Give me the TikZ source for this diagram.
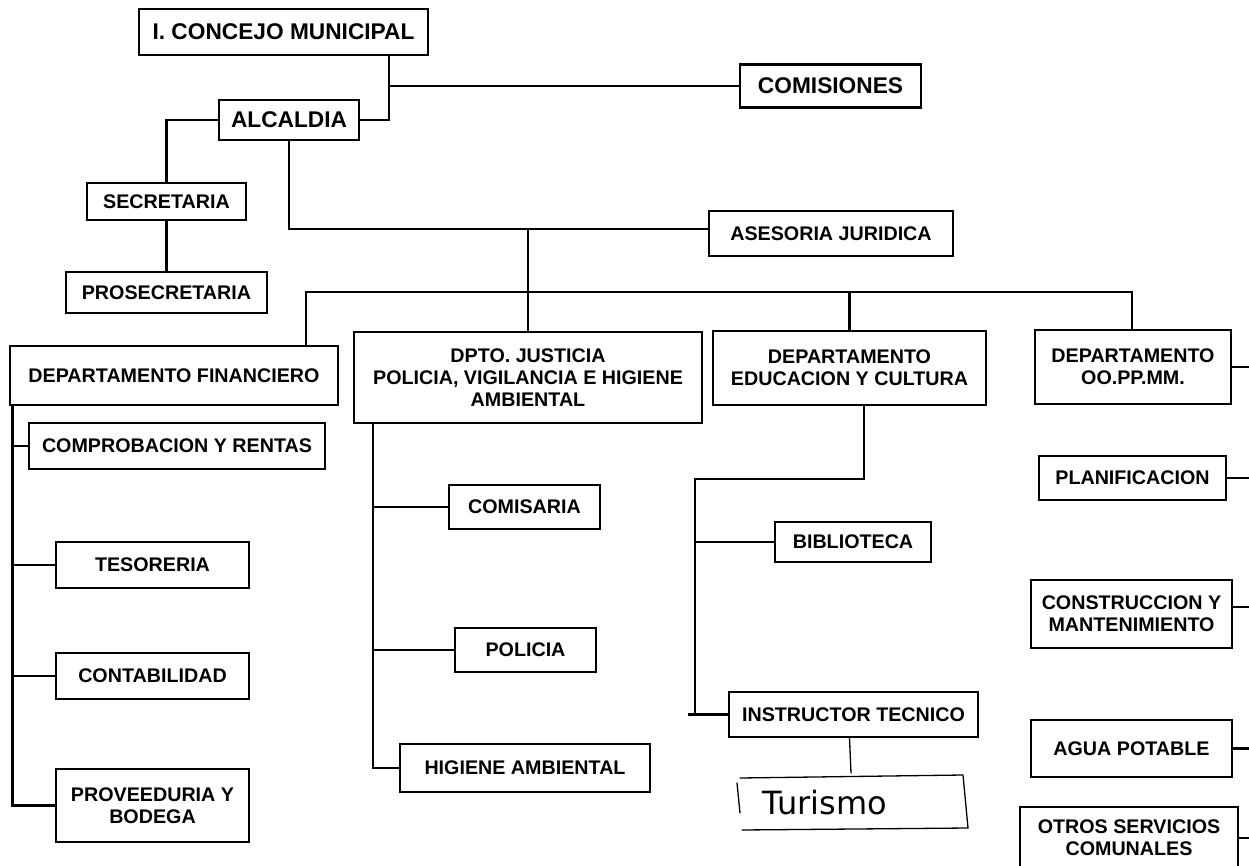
\documentclass[tikz,border=0pt]{standalone}
\usepackage{fontspec}
\setmainfont{Liberation Sans}
\newfontfamily\handfont{DejaVu Sans}
\begin{document}
\begin{tikzpicture}[x=1pt,y=-1pt,
  box/.style={draw, line width=2.2pt, rectangle, inner sep=0pt, align=center,
    font=\bfseries\fontsize{19.7}{21.7}\selectfont},
  bigbox/.style={box, font=\bfseries\fontsize{22.7}{25}\selectfont},
  conn/.style={line width=2.2pt},
  handline/.style={line width=1.3pt, line cap=round, line join=round},
  handtext/.style={inner sep=0pt, font=\handfont\fontsize{32}{34}\selectfont}]
\clip (0,0) rectangle (1249,866);
\fill[white] (0,0) rectangle (1249,866);

% ---- boxes ----
\node[bigbox, minimum width=289pt, minimum height=46pt] (concejo) at (283.5,32) {I. CONCEJO MUNICIPAL};
\node[bigbox, minimum width=140pt, minimum height=40pt] (alcaldia) at (289,120) {ALCALDIA};
\node[bigbox, minimum width=181pt, minimum height=43pt] (comisiones) at (830.5,86) {COMISIONES};
\node[box, minimum width=159pt, minimum height=37pt] (secretaria) at (166.5,201.5) {SECRETARIA};
\node[box, minimum width=201pt, minimum height=41pt] (prosecretaria) at (166.5,292.5) {PROSECRETARIA};
\node[box, minimum width=244pt, minimum height=45pt] (asesoria) at (831,233.5) {ASESORIA JURIDICA};
\node[box, minimum width=328pt, minimum height=59pt] (financiero) at (174,375.5) {DEPARTAMENTO FINANCIERO};
\node[box, minimum width=348pt, minimum height=91pt] (justicia) at (528,377.5) {DPTO. JUSTICIA\\POLICIA, VIGILANCIA E HIGIENE\\AMBIENTAL};
\node[box, minimum width=273pt, minimum height=74pt] (educacion) at (849.5,368) {DEPARTAMENTO\\EDUCACION Y CULTURA};
\node[box, minimum width=196pt, minimum height=74pt] (oopp) at (1133,367) {DEPARTAMENTO\\OO.PP.MM.};
\node[box, minimum width=296pt, minimum height=46pt] (comprobacion) at (177,446) {COMPROBACION Y RENTAS};
\node[box, minimum width=193pt, minimum height=46pt] (tesoreria) at (152.5,565) {TESORERIA};
\node[box, minimum width=193pt, minimum height=46pt] (contabilidad) at (152.5,676) {CONTABILIDAD};
\node[box, minimum width=193pt, minimum height=73pt] (proveeduria) at (152.5,805.5) {PROVEEDURIA Y\\BODEGA};
\node[box, minimum width=151pt, minimum height=44pt] (comisaria) at (524.5,507) {COMISARIA};
\node[box, minimum width=141pt, minimum height=44pt] (policia) at (525.5,650) {POLICIA};
\node[box, minimum width=250pt, minimum height=48pt] (higiene) at (525,768) {HIGIENE AMBIENTAL};
\node[box, minimum width=156pt, minimum height=40pt] (biblioteca) at (853,542) {BIBLIOTECA};
\node[box, minimum width=249pt, minimum height=45pt] (instructor) at (853.5,714.5) {INSTRUCTOR TECNICO};
\node[box, minimum width=187pt, minimum height=44pt] (planificacion) at (1132.5,478) {PLANIFICACION};
\node[box, minimum width=201pt, minimum height=68pt] (construccion) at (1131.5,614) {CONSTRUCCION Y\\MANTENIMIENTO};
\node[box, minimum width=201pt, minimum height=57pt] (agua) at (1131.5,748.5) {AGUA POTABLE};
\node[box, minimum width=218pt, minimum height=62pt] (otros) at (1129,838) {OTROS SERVICIOS\\COMUNALES};
\node[handtext] (turismo) at (825,803) {Turismo};

% hand-drawn frame around Turismo
\draw[handline] (740,778) -- (963,775) -- (968,828);
\draw[handline] (742,830) -- (968,828);
\draw[handline] (737,783) -- (740,813);

% ---- connectors ----
\coordinate (j1) at (389,86);
\draw[conn] (concejo.south -| j1) |- (alcaldia.east);
\draw[conn] (j1) -- (comisiones.west);
\draw[conn] (alcaldia.west) -| (secretaria.north);
\draw[conn] (secretaria.south) -- (prosecretaria.north);

\coordinate (j2) at (528,229);
\draw[conn] (alcaldia.south) |- (j2) -- (asesoria.west |- j2);
\draw[conn] (j2) -- (justicia.north);

\coordinate (bL) at (306,292);
\coordinate (bR) at (1132,292);
\draw[conn] (financiero.north -| bL) -- (bL) -- (bR) -- (oopp.north -| bR);
\draw[conn] (educacion.north) -- (educacion.north |- bL);

% financiero
\coordinate (fL) at (12.5,0);
\draw[conn] (financiero.south -| fL) |- (proveeduria.west);
\draw[conn] (comprobacion.west -| fL) -- (comprobacion.west);
\draw[conn] (tesoreria.west -| fL) -- (tesoreria.west);
\draw[conn] (contabilidad.west -| fL) -- (contabilidad.west);

% justicia
\coordinate (jL) at (373,0);
\draw[conn] (justicia.south -| jL) |- (higiene.west);
\draw[conn] (comisaria.west -| jL) -- (comisaria.west);
\draw[conn] (policia.west -| jL) -- (policia.west);

% educacion
\coordinate (e1) at (864,479);
\coordinate (e2) at (695,479);
\draw[conn] (educacion.south -| e1) -- (e1) -- (e2) |- (instructor.west);
\draw[conn] (biblioteca.west -| e2) -- (biblioteca.west);
\draw[conn] ([xshift=-40pt]instructor.west) -- (instructor.west);
\coordinate (tTop) at (851,773);
\draw[handline] ([xshift=-4pt]instructor.south) -- (tTop);

% OO.PP.MM. column
\coordinate (rE) at (1249,0);
\coordinate (cE) at ([yshift=7pt]construccion.east);
\draw[conn] (oopp.east) -- (oopp.east -| rE);
\draw[conn] (planificacion.east) -- (planificacion.east -| rE);
\draw[conn] (cE) -- (cE -| rE);
\draw[conn] (agua.east) -- (agua.east -| rE);
\draw[conn] (otros.east) -- (otros.east -| rE);
\end{tikzpicture}
\end{document}
